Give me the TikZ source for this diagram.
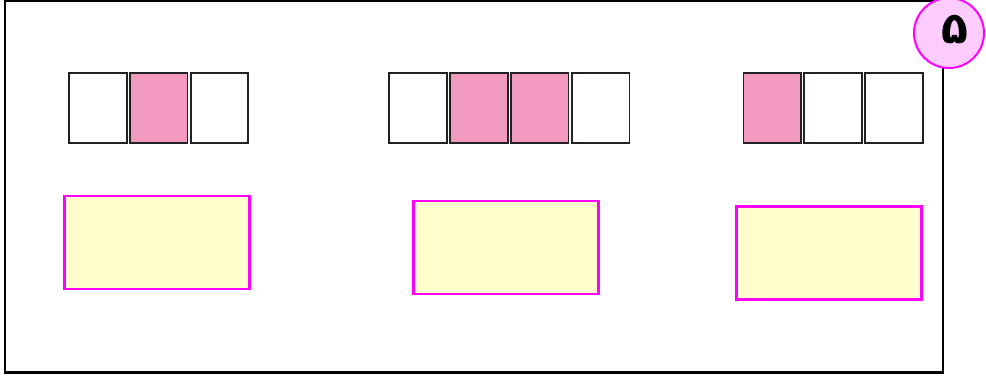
\documentclass[tikz,border=0pt]{standalone}
\usepackage{fontspec}
\newfontfamily\arabicfont[Script=Arabic]{DejaVu Sans}
\TeXXeTstate=1
\definecolor{cellpink}{HTML}{F299BF}
\definecolor{boxyellow}{HTML}{FFFDCC}
\definecolor{mag}{HTML}{FF00FF}
\definecolor{circfill}{HTML}{FFCCFF}
\definecolor{cellline}{HTML}{222222}
\begin{document}
\begin{tikzpicture}[x=1pt,y=-1pt,
  cell/.style={draw=cellline,line width=1.6pt,rectangle,inner sep=0pt,minimum width=57.5pt,minimum height=70pt,fill=white},
  pcell/.style={cell,fill=cellpink},
  ybox/.style={draw=mag,line width=2.5pt,fill=boxyellow,rectangle,inner sep=0pt,minimum width=185pt,minimum height=93pt},
  frame/.style={draw=black,line width=2.5pt}]
\useasboundingbox (0,0) rectangle (986,378);
\draw[frame] (5,1) rectangle (943,372.7);
% group 1
\node[cell]  (a1) at (98,108) {};
\node[pcell] (a2) at (158.7,108) {};
\node[cell]  (a3) at (219.5,108) {};
% group 2
\node[cell]  (b1) at (418,108) {};
\node[pcell] (b2) at (479,108) {};
\node[pcell] (b3) at (539.7,108) {};
\node[cell]  (b4) at (600.7,108) {};
% group 3
\node[pcell] (c1) at (772.2,108) {};
\node[cell]  (c2) at (833,108) {};
\node[cell]  (c3) at (894,108) {};
% yellow boxes
\node[ybox] (y1) at (157,242.3) {};
\node[ybox] (y2) at (506.2,247.7) {};
\node[ybox] (y3) at (828.9,252.9) {};
% badge
\node[circle,draw=mag,line width=2pt,fill=circfill,minimum size=70pt,inner sep=0pt] (badge) at (949,33) {};
\node[inner sep=0pt] (num) at (955,30) {\arabicfont\bfseries\fontsize{44}{44}\selectfont\beginR ۵\endR};
\end{tikzpicture}
\end{document}
